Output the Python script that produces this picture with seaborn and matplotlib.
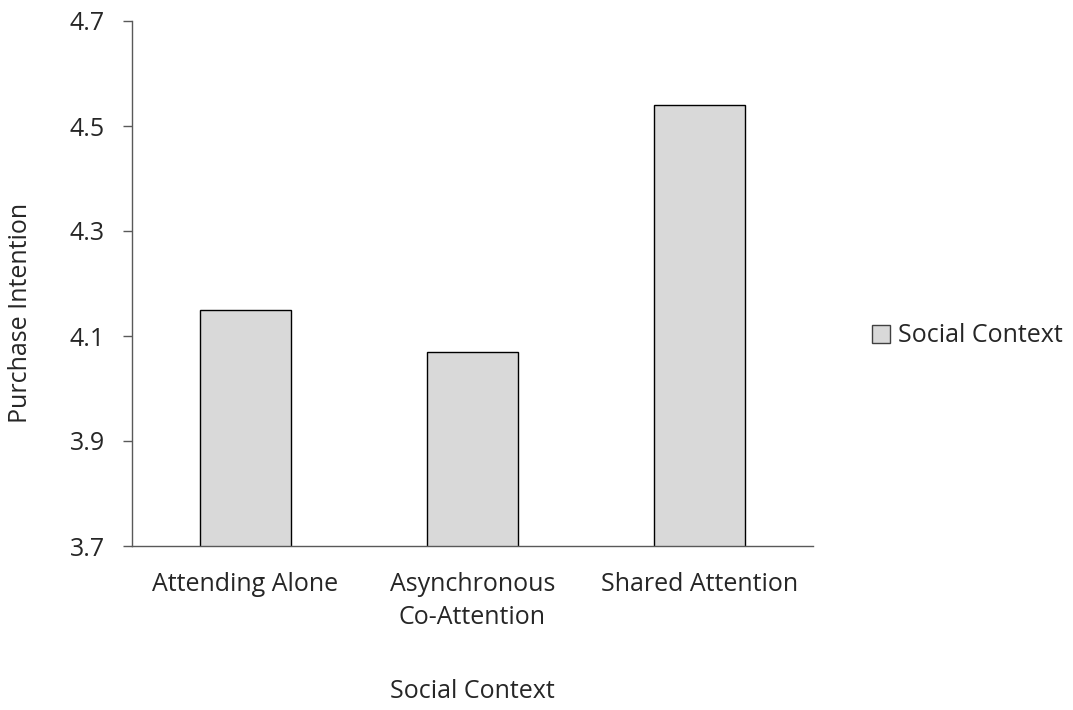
import pandas as pd
import seaborn as sns
import matplotlib.pyplot as plt
from matplotlib.patches import Patch

# values
contexts = ["Attending Alone", "Asynchronous\nCo-Attention", "Shared Attention"]
purchase_intention = [4.15, 4.07, 4.54]
yticks = [3.7, 3.9, 4.1, 4.3, 4.5, 4.7]

df = pd.DataFrame({"context": contexts, "intention": purchase_intention})

sns.set_style("white")
plt.rcParams['font.family'] = ['Open Sans', 'DejaVu Sans']
FS = 18

fig = plt.figure(figsize=(10.73, 7.10), dpi=100)
# plot area: x 132..813 px, y 21..546 px
ax1 = fig.add_axes([132 / 1073, 1 - 546 / 710, 681 / 1073, 525 / 710])

sns.barplot(data=df, x="context", y="intention", color="#d9d9d9",
            saturation=1, width=0.397, edgecolor="black", linewidth=1, ax=ax1)

ax1.set_ylim(3.7, 4.7)
ax1.set_yticks(yticks)
ax1.set_yticklabels([f"{t:.1f}" for t in yticks], fontsize=FS)
ax1.tick_params(axis="x", labelsize=FS, length=0, pad=19)
for lbl in ax1.get_xticklabels():
    lbl.set_linespacing(1.42)
ax1.tick_params(axis="y", length=6.5, width=1, color="#595959", direction="out",
                left=True, pad=13)
for s in ["top", "right"]:
    ax1.spines[s].set_visible(False)
for s in ["left", "bottom"]:
    ax1.spines[s].set_color("#595959")
    ax1.spines[s].set_linewidth(1)

ax1.set_xlabel("Social Context", fontsize=FS)
ax1.set_ylabel("Purchase Intention", fontsize=FS)
ax1.xaxis.set_label_coords(0.5, -(679 - 546) / 525, transform=ax1.transAxes)
ax1.xaxis.label.set_va("top")
ax1.yaxis.set_label_coords(-(132 - 8) / 681, (546 - 313) / 525, transform=ax1.transAxes)
ax1.yaxis.label.set_va("top")

handle = Patch(facecolor="#d9d9d9", edgecolor="#404040", linewidth=1, label="Social Context")
fig.legend(handles=[handle], loc="center left", bbox_to_anchor=(872 / 1073, 1 - 336 / 710),
           frameon=False, fontsize=FS, handlelength=0.72, handleheight=0.72,
           handletextpad=0.32, borderpad=0, borderaxespad=0)

fig.savefig("out.png", dpi=100)
